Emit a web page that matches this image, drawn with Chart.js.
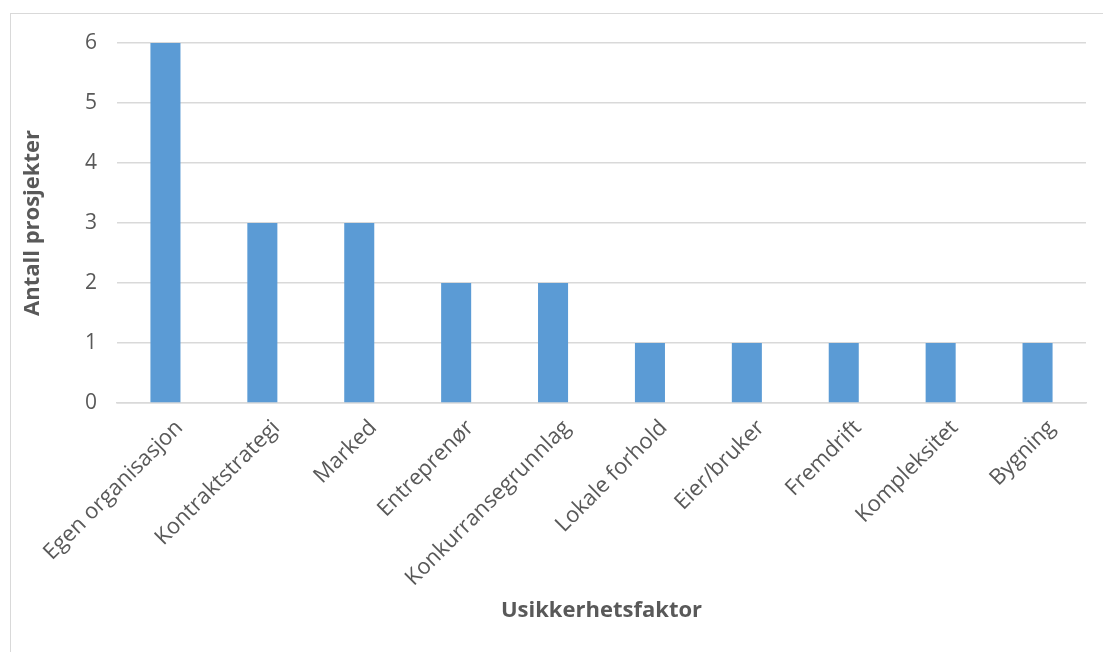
<!DOCTYPE html>
<html>
<head>
<meta charset="utf-8">
<script src="https://cdn.jsdelivr.net/npm/chart.js@4"></script>
<style>
  html, body { margin: 0; padding: 0; background: #fff; overflow: hidden; }
  #frame {
    position: absolute; left: 10px; top: 13px;
    width: 1200px; height: 800px;
    border: 1.5px solid #d9d9d9; box-sizing: border-box;
  }
  #wrap { position: absolute; left: 0; top: 0; width: 1103px; height: 652px; }
</style>
</head>
<body>
<div id="frame"></div>
<div id="wrap"><canvas id="chart" width="1103" height="652"></canvas></div>
<script>
// Usikkerhetsfaktorer - antall prosjekter
const categories = [
  'Egen organisasjon', 'Kontraktstrategi', 'Marked', 'Entreprenør',
  'Konkurransegrunnlag', 'Lokale forhold', 'Eier/bruker', 'Fremdrift',
  'Kompleksitet', 'Bygning'
];
const projectCounts = [6, 3, 3, 2, 2, 1, 1, 1, 1, 1];
const yTicks = [0, 1, 2, 3, 4, 5, 6];

const colors = {
  bar: '#5B9BD5',
  grid: '#d9d9d9',
  text: '#595959',
};
const fontFamily = '"Open Sans", sans-serif';

new Chart(document.getElementById('chart'), {
  type: 'bar',
  data: {
    labels: categories,
    datasets: [
      {
        label: 'Antall prosjekter',
        data: projectCounts,
        backgroundColor: colors.bar,
        barPercentage: 0.62,
        categoryPercentage: 0.5,
      },
    ],
  },
  options: {
    responsive: false,
    animation: false,
    layout: { padding: { top: 43, right: 17, left: 0, bottom: 0 } },
    plugins: {
      legend: { display: false },
      tooltip: { enabled: false },
    },
    scales: {
      x: {
        grid: { display: false, drawTicks: false },
        border: { display: true, color: colors.grid, width: 1.5 },
        ticks: {
          color: colors.text,
          font: { family: fontFamily, size: 22 },
          minRotation: 45,
          maxRotation: 45,
          padding: 12,
          labelOffset: 14,
          autoSkip: false,
        },
        title: {
          display: true,
          text: 'Usikkerhetsfaktor',
          color: colors.text,
          font: { family: fontFamily, size: 22, weight: 'bold' },
          padding: { top: 0, bottom: 28 },
        },
        afterFit: (scale) => { scale.height = 652 - 403; },
      },
      y: {
        min: 0,
        max: 6,
        afterBuildTicks: (scale) => { scale.ticks = yTicks.map((v) => ({ value: v })); },
        grid: { color: colors.grid, lineWidth: 1.5, drawTicks: false },
        border: { display: false },
        ticks: {
          color: colors.text,
          font: { family: fontFamily, size: 21 },
          padding: 20,
        },
        title: {
          display: true,
          text: 'Antall prosjekter',
          color: colors.text,
          font: { family: fontFamily, size: 22, weight: 'bold' },
          padding: { top: 20, bottom: 0 },
        },
        afterFit: (scale) => { scale.width = 117; },
      },
    },
  },
});
</script>
</body>
</html>
